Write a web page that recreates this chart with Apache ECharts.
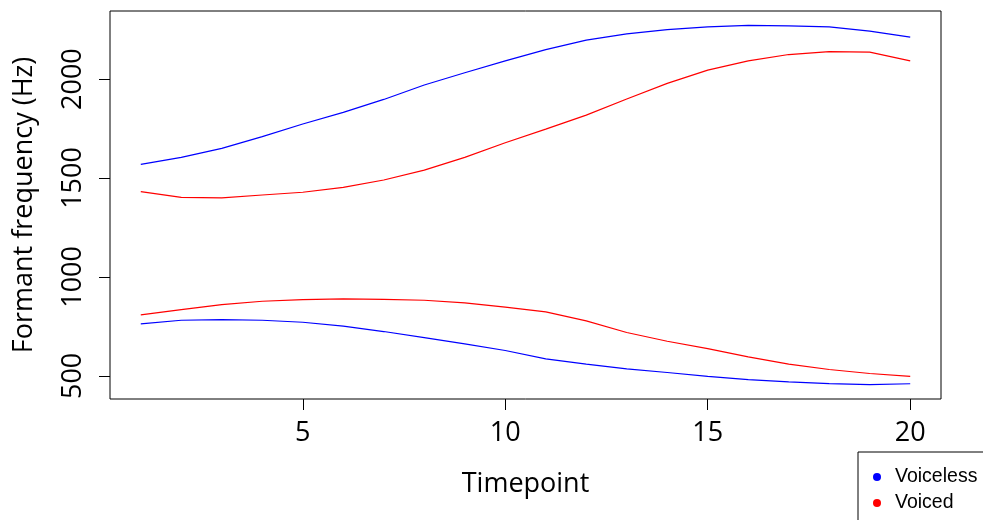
<!DOCTYPE html>
<html>
<head>
<meta charset="utf-8">
<script src="https://cdn.jsdelivr.net/npm/echarts@6/dist/echarts.min.js"></script>
<style>
html,body{margin:0;padding:0;background:#fff;}
#chart{width:983px;height:520px;}
</style>
</head>
<body>
<div id="chart"></div>
<script>
var timepoints = [1,2,3,4,5,6,7,8,9,10,11,12,13,14,15,16,17,18,19,20];
var f1Voiceless = [763,781,784,781,771,751,724,693,662,628,586,559,535,517,497,481,470,461,456,460];
var f2Voiceless = [1569,1604,1650,1709,1773,1832,1897,1970,2032,2092,2149,2197,2228,2250,2264,2271,2269,2264,2242,2212];
var f1Voiced = [808,835,860,877,885,889,887,882,869,847,823,778,719,675,638,596,559,532,512,497];
var f2Voiced = [1431,1402,1400,1414,1428,1453,1490,1540,1604,1678,1747,1818,1899,1978,2045,2092,2124,2139,2136,2092];
var xTicks = [5,10,15,20];
var yTicks = [500,1000,1500,2000];
var groupNames = ['Voiceless','Voiced'];

function pairs(v){ return timepoints.map(function(t,i){ return [t, v[i]]; }); }

var font = '"Open Sans", "Noto Sans", sans-serif';
var chart = echarts.init(document.getElementById('chart'), null, {renderer:'canvas'});
function lineSeries(name, vals, color){
  return {name:name, type:'line', data:pairs(vals), showSymbol:false, symbol:'circle',
    lineStyle:{color:color, width:1.2}, itemStyle:{color:color}, animation:false, silent:true};
}
chart.setOption({
  animation:false,
  grid:{left:110, top:11, right:42, bottom:121, show:true, borderColor:'#000', borderWidth:1, backgroundColor:'transparent'},
  xAxis:{type:'value', min:0.24, max:20.76,
    name:'Timepoint', nameLocation:'middle', nameGap:72,
    nameTextStyle:{fontSize:27, fontFamily:font, color:'#000'},
    axisLine:{show:false},
    axisTick:{show:true, length:11, customValues:xTicks, lineStyle:{color:'#000'}},
    axisLabel:{customValues:xTicks, fontSize:27, fontFamily:font, color:'#000', margin:21,
      formatter:function(v){ return String(v); }},
    splitLine:{show:false}},
  yAxis:{type:'value', min:383, max:2344,
    name:'Formant frequency (Hz)', nameLocation:'middle', nameGap:72, nameRotate:90,
    nameTextStyle:{fontSize:27, fontFamily:font, color:'#000'},
    axisLine:{show:false},
    axisTick:{show:true, length:11, customValues:yTicks, lineStyle:{color:'#000'}},
    axisLabel:{customValues:yTicks, rotate:90, fontSize:27, fontFamily:font, color:'#000', margin:23,
      formatter:function(v){ return String(v); }},
    splitLine:{show:false}},
  legend:{data:groupNames, orient:'vertical', left:858, top:452, width:200, height:200,
    padding:[15,40,40,15], itemGap:6, itemWidth:8, itemHeight:8, icon:'circle',
    borderColor:'#000', borderWidth:1, backgroundColor:'#fff',
    textStyle:{fontSize:19.5, fontFamily:'"Liberation Sans", Arial, sans-serif', color:'#000', padding:[0,0,0,9]}},
  series:[
    lineSeries('Voiceless', f2Voiceless, '#0000FF'),
    lineSeries('Voiced', f2Voiced, '#FF0000'),
    lineSeries('Voiced', f1Voiced, '#FF0000'),
    lineSeries('Voiceless', f1Voiceless, '#0000FF')
  ]
});
</script>
</body>
</html>
